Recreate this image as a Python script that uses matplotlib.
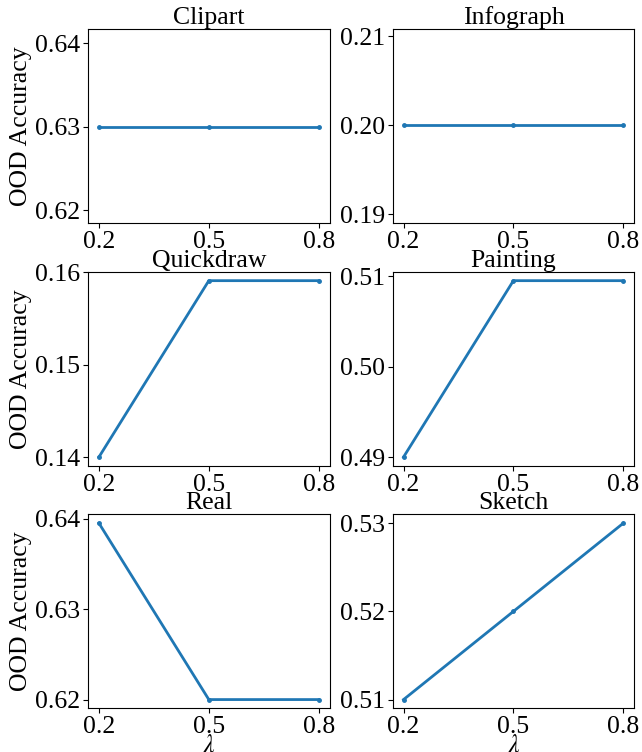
import matplotlib
matplotlib.use("Agg")
import matplotlib.pyplot as plt

plt.rcParams['font.family'] = ['Liberation Serif', 'DejaVu Serif']
plt.rcParams['mathtext.fontset'] = 'stix'
plt.rcParams['font.size'] = 18.5

lam = [0.2, 0.5, 0.8]
domini = ["Clipart", "Infograph", "Quickdraw", "Painting", "Real", "Sketch"]
clipart = [0.63, 0.63, 0.63]
infograph = [0.20, 0.20, 0.20]
quickdraw = [0.14, 0.1591, 0.1591]
painting = [0.49, 0.5095, 0.5095]
real = [0.6395, 0.62, 0.62]
sketch = [0.51, 0.52, 0.53]
valori = [clipart, infograph, quickdraw, painting, real, sketch]

yticks = [[0.62, 0.63, 0.64], [0.19, 0.20, 0.21], [0.14, 0.15, 0.16],
          [0.49, 0.50, 0.51], [0.62, 0.63, 0.64], [0.51, 0.52, 0.53]]
ylabels = [["0.62", "0.63", "0.64"], ["0.19", "0.20", "0.21"], ["0.14", "0.15", "0.16"],
           ["0.49", "0.50", "0.51"], ["0.62", "0.63", "0.64"], ["0.51", "0.52", "0.53"]]

fig, axs = plt.subplots(3, 2, figsize=(6.42, 7.52), dpi=100)
fig.subplots_adjust(left=0.137, right=0.988, top=0.961, bottom=0.058, wspace=0.26, hspace=0.25)

for i, ax in enumerate(axs.flat):
    ax.plot(lam, valori[i], '.-', color='#1f77b4', linewidth=2, markersize=5)
    ax.set_title(domini[i], fontsize=18.5, pad=1)
    ax.set_xticks(lam)
    ax.set_xticklabels(["0.2", "0.5", "0.8"])
    ax.set_yticks(yticks[i])
    ax.set_yticklabels(ylabels[i])
    ax.tick_params(labelsize=18.5, pad=2)
    if i % 2 == 0:
        ax.set_ylabel('OOD Accuracy', fontsize=18.5, labelpad=2)
    if i >= 4:
        ax.set_xlabel(r'$\lambda$', fontsize=18.5, labelpad=-2)

axs[0, 0].set_ylim(0.6184, 0.6417)
axs[0, 1].set_ylim(0.1890, 0.2108)

fig.savefig("out.png")
